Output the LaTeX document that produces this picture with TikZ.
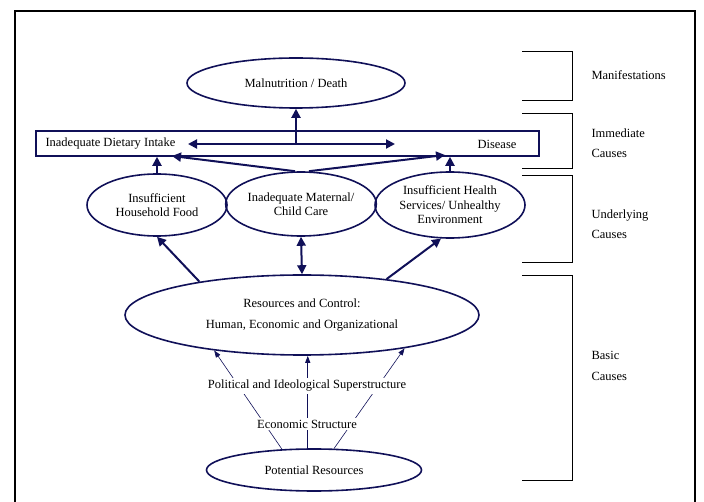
\documentclass[tikz,border=0pt]{standalone}
\usepackage{fontspec}
\setmainfont{Liberation Serif}
\usepackage{tikz}
\usetikzlibrary{shapes.geometric}
\usetikzlibrary{arrows.meta}
\definecolor{navy}{RGB}{16,16,88}

\begin{document}
\begin{tikzpicture}[x=1pt, y=-1pt]
\tikzstyle{every node}=[font=\fontsize{12.5}{14.5}\selectfont] %%
\tikzstyle{oval}=[ellipse, draw=navy, line width=1.6pt, inner sep=0pt, align=center]
\tikzstyle{link}=[navy, line width=2pt, -{Triangle[length=9pt,width=9pt]}]
\tikzstyle{dlink}=[link, {Triangle[length=9pt,width=9pt]}-{Triangle[length=9pt,width=9pt]}]
\tikzstyle{thinlink}=[navy, line width=.6pt, -{Triangle[length=7pt,width=5pt]}]
\tikzstyle{level}=[anchor=west, align=left]
\useasboundingbox (0,0) rectangle (704,502);
\draw[line width=1.3pt] (15,502) -- (15,11) -- (695,11) -- (695,502);

% brackets on the right
\foreach \ya/\yb in {51/100, 113/168, 175/262, 275/480}
    \draw[line width=.7pt] (522,\ya) -- (572,\ya) -- (572,\yb) -- (522,\yb);
\node[level] (manif) at (588,75) {Manifestations};
\node[level] (immed) at (588,143) {Immediate\\[6pt]Causes};
\node[level] (under) at (588,224) {Underlying\\[6pt]Causes};
\node[level] (basic) at (588,366) {Basic\\[6pt]Causes};

\node[oval, minimum width=218pt, minimum height=50pt] (death) at (296,83) {Malnutrition / Death};

\node[draw=navy, line width=1.6pt, minimum width=503pt, minimum height=25pt, inner sep=0pt] (immbox) at (287.5,143.5) {};
\node[anchor=west] (intake) at (42,144) {Inadequate Dietary Intake};
\node (disease) at (497,144) {Disease};
\coordinate (hub) at (296,144);
\coordinate (hubl) at (188,144);
\coordinate (hubr) at (395,144);
\coordinate (ina) at (172,156);
\coordinate (inb) at (445,155);
\draw[link] (hub) -- (death);
\draw[dlink] (hubl) -- (hubr);

\node[oval, minimum width=140pt, minimum height=62pt] (food) at (157,205) {Insufficient\\Household Food};
\node[oval, minimum width=148pt, minimum height=64pt] (care) at (301,204) {Inadequate Maternal/\\Child Care};
\node[oval, minimum width=150pt, minimum height=66pt] (health) at (450,205) {Insufficient Health\\Services/ Unhealthy\\Environment};
\draw[link] (food) -- (food |- immbox.south);
\draw[link] (health) -- (health |- immbox.south);
\draw[link] ([xshift=-6pt]care.north) -- (ina);
\draw[link] ([xshift=8pt]care.north) -- (inb);

\node[oval, minimum width=354pt, minimum height=80pt] (res) at (302,315) {Resources and Control:\\[6pt]Human, Economic and Organizational};
\draw[link] (res.162) -- (food.south);
\draw[dlink] (res.north) -- (care.south);
\draw[link] (res.23) -- (health.255);

\node[oval, minimum width=215pt, minimum height=42pt] (pot) at (314,470) {Potential Resources};
\draw[thinlink] (pot.147) -- (res.202);
\draw[thinlink, line width=1pt] (pot.106) -- (pot.106 |- res.south);
\draw[thinlink] (pot.47) -- (res.342);
\node[fill=white, inner sep=2pt] (polit) at (307,386) {Political and Ideological Superstructure};
\node[fill=white, inner sep=2pt] (econ) at (307,424) {Economic Structure};
\end{tikzpicture}
\end{document}
